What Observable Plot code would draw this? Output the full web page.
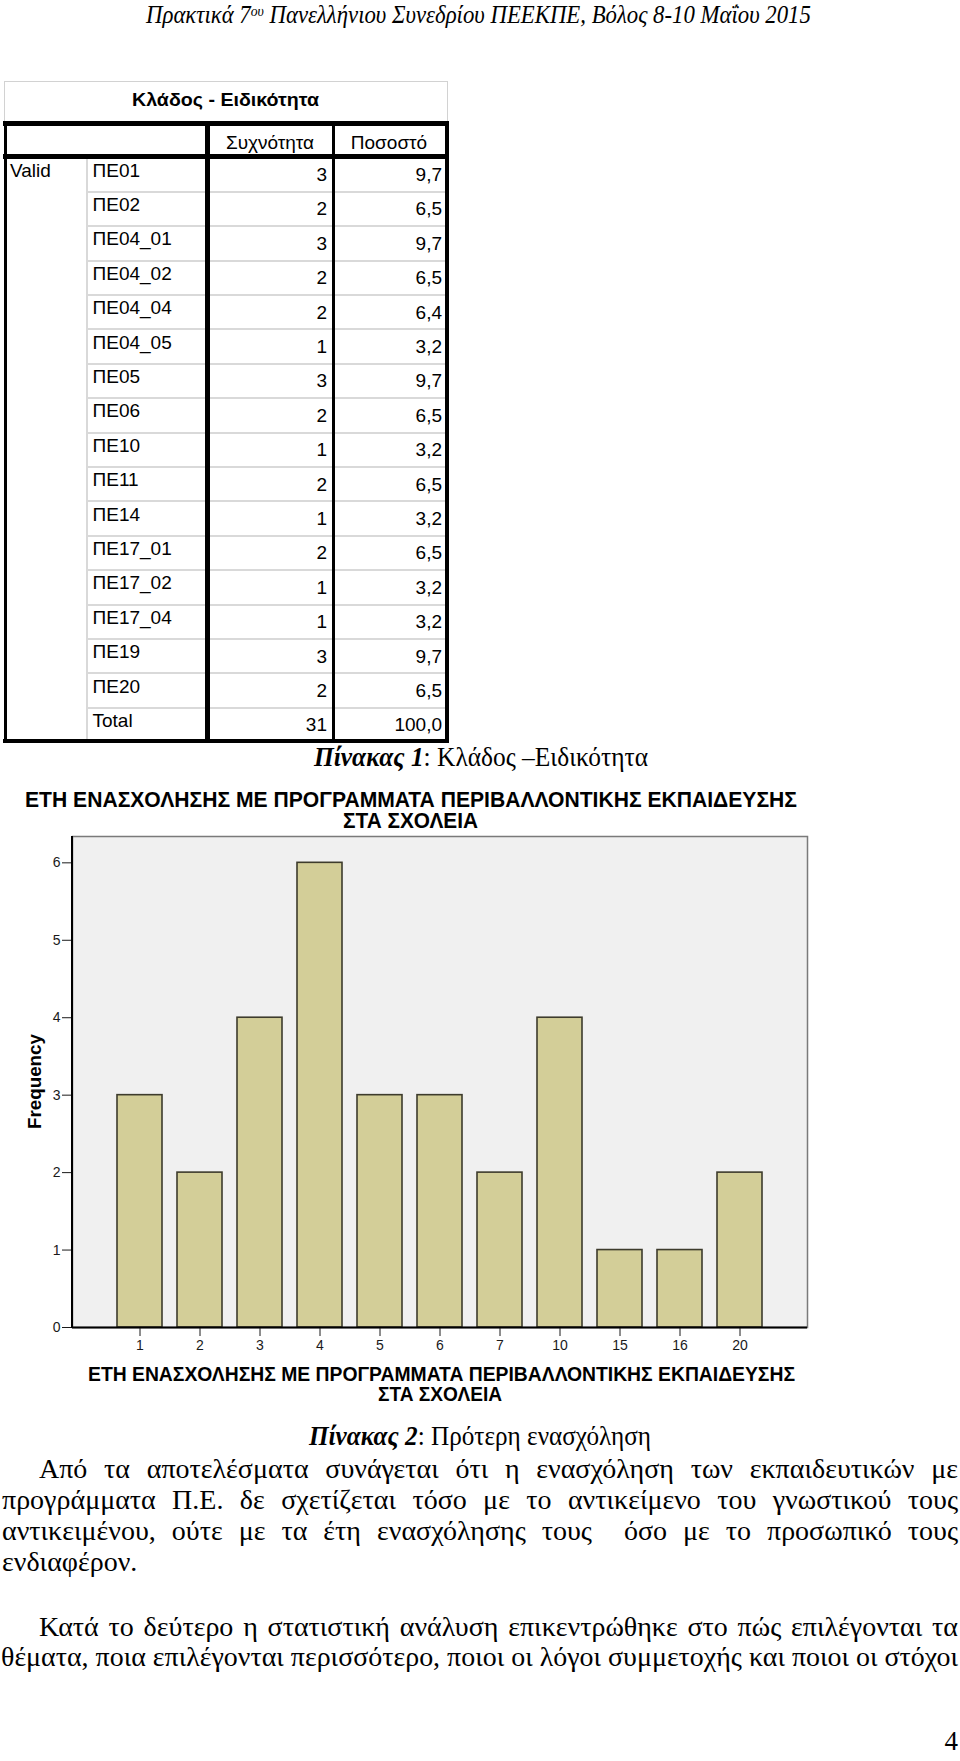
<!DOCTYPE html>
<html>
<head>
<meta charset="utf-8">
<script src="https://cdn.jsdelivr.net/npm/d3@7"></script>
<script src="https://cdn.jsdelivr.net/npm/@observablehq/plot@0.6"></script>
<style>
  html, body { margin: 0; padding: 0; background: #fff; }
  #page { position: relative; width: 960px; height: 1761px; overflow: hidden; background: #fff; }
  .r { position: absolute; }
</style>
</head>
<body>
<div id="page"></div>
<script>
// ---------- data ----------
const headerText = "Πρακτικά 7<sup>ου</sup> Πανελλήνιου Συνεδρίου ΠΕΕΚΠΕ, Βόλος 8-10 Μαΐου 2015";
const tableTitle = "Κλάδος - Ειδικότητα";
const colHeaders = ["Συχνότητα", "Ποσοστό"];
const groupLabel = "Valid";
const codes = ["ΠΕ01","ΠΕ02","ΠΕ04_01","ΠΕ04_02","ΠΕ04_04","ΠΕ04_05","ΠΕ05","ΠΕ06","ΠΕ10","ΠΕ11","ΠΕ14","ΠΕ17_01","ΠΕ17_02","ΠΕ17_04","ΠΕ19","ΠΕ20","Total"];
const freqs = [3,2,3,2,2,1,3,2,1,2,1,2,1,1,3,2,31];
const pcts = ["9,7","6,5","9,7","6,5","6,4","3,2","9,7","6,5","3,2","6,5","3,2","6,5","3,2","3,2","9,7","6,5","100,0"];
const caption1 = "<b><i>Πίνακας 1</i></b>: Κλάδος –Ειδικότητα";
const chartTitle = ["ΕΤΗ ΕΝΑΣΧΟΛΗΣΗΣ ΜΕ ΠΡΟΓΡΑΜΜΑΤΑ ΠΕΡΙΒΑΛΛΟΝΤΙΚΗΣ ΕΚΠΑΙΔΕΥΣΗΣ", "ΣΤΑ ΣΧΟΛΕΙΑ"];
const yTitle = "Frequency";
const years = ["1","2","3","4","5","6","7","10","15","16","20"];
const counts = [3,2,4,6,3,3,2,4,1,1,2];
const caption2 = "<b><i>Πίνακας 2</i></b>: Πρότερη ενασχόληση";
const para1 = [
  "Από τα αποτελέσματα συνάγεται ότι η ενασχόληση των εκπαιδευτικών με",
  "προγράμματα Π.Ε. δε σχετίζεται τόσο με το αντικείμενο του γνωστικού τους",
  "αντικειμένου, ούτε με τα έτη ενασχόλησης τους  όσο με το προσωπικό τους",
  "ενδιαφέρον."
];
const para2 = [
  "Κατά το δεύτερο η στατιστική ανάλυση επικεντρώθηκε στο πώς επιλέγονται τα",
  "θέματα, ποια επιλέγονται περισσότερο, ποιοι οι λόγοι συμμετοχής και ποιοι οι στόχοι"
];
const pageNumber = "4";

// ---------- helpers ----------
const page = document.getElementById("page");
const SERIF = "'Liberation Serif','Times New Roman',serif";
const SANS = "'Liberation Sans',Arial,sans-serif";
const NARROW = "'Liberation Sans Narrow','Liberation Sans',Arial,sans-serif";

function put(html, o) {
  const s = document.createElement("span");
  s.innerHTML = html;
  const fs = o.fs;
  const asc = o.ff === SERIF ? 0.8375 : 0.8465;
  s.style.cssText = `position:absolute;white-space:pre;line-height:1;font-size:${fs}px;font-family:${o.ff};` +
    `font-weight:${o.fw || 400};font-style:${o.fst || "normal"};color:${o.color || "#000"};left:0;` +
    `top:${o.base - asc * fs}px;transform-origin:0 50%;`;
  page.appendChild(s);
  const w = s.getBoundingClientRect().width;
  const sx = o.sx || 1;
  let fw = w * sx;
  if (o.w) {
    const n = (s.textContent.match(/ /g) || []).length;
    if (o.justify && w * sx < o.w && n) {
      s.style.wordSpacing = ((o.w - w * sx) / (n * sx)) + "px";
      if (sx !== 1) s.style.transform = `scaleX(${sx})`;
    } else s.style.transform = `scaleX(${o.w / w})`;
    fw = o.w;
  } else if (sx !== 1) {
    s.style.transform = `scaleX(${sx})`;
  }
  const a = o.anchor || "start";
  s.style.left = (a === "start" ? o.x : a === "middle" ? o.x - fw / 2 : o.x - fw) + "px";
  return s;
}
function rect(x, y, w, h, c) {
  const d = document.createElement("div");
  d.className = "r";
  d.style.cssText += `left:${x}px;top:${y}px;width:${w}px;height:${h}px;background:${c};`;
  page.appendChild(d);
}

// ---------- page header ----------
put(headerText, {x: 481, base: 23, fs: 25, ff: SERIF, fst: "italic", anchor: "middle", w: 670});
page.querySelectorAll("sup").forEach(e => { e.style.fontSize = "0.6em"; e.style.verticalAlign = "0"; e.style.position = "relative"; e.style.top = "-0.45em"; e.style.lineHeight = "0"; });

// ---------- table ----------
const rowTop = 157.3, rowH = 34.4;
const tb = document.createElement("div");
tb.className = "r";
tb.style.cssText += "left:4px;top:81px;width:442px;height:41px;border:1.5px solid #d2d2d2;border-bottom:none;";
page.appendChild(tb);
for (let i = 1; i < codes.length; i++) rect(87, rowTop + rowH * i - 1, 358, 2, "#d9d9d9");
rect(86, 158, 2, rowTop + rowH * codes.length - 158, "#d9d9d9");
rect(3, 121, 446, 4.5, "#000");
rect(3, 154, 446, 4.5, "#000");
rect(3, 738.5, 446, 4.5, "#000");
rect(3.5, 121, 3.5, 622, "#000");
rect(205, 121, 5, 622, "#000");
rect(332, 121, 2.5, 622, "#000");
rect(445, 121, 4, 622, "#000");

put(tableTitle, {x: 225, base: 106, fs: 18, ff: SANS, fw: 700, anchor: "middle", w: 187});
put(colHeaders[0], {x: 270, base: 149, fs: 19, ff: SANS, anchor: "middle"});
put(colHeaders[1], {x: 389, base: 149, fs: 19, ff: SANS, anchor: "middle"});
put(groupLabel, {x: 10, base: rowTop + 19.4, fs: 19, ff: SANS});
codes.forEach((c, i) => {
  const t = rowTop + rowH * i;
  put(c, {x: 92.5, base: t + 19.4, fs: 19, ff: SANS});
  put(String(freqs[i]), {x: 327, base: t + 23.7, fs: 19, ff: SANS, anchor: "end"});
  put(pcts[i], {x: 442, base: t + 23.7, fs: 19, ff: SANS, anchor: "end"});
});

put(caption1, {x: 481, base: 767, fs: 27, ff: SERIF, anchor: "middle", w: 334});

// ---------- chart titles ----------
put(chartTitle[0], {x: 411, base: 808.5, fs: 21.5, ff: NARROW, fw: 700, anchor: "middle", w: 772});
put(chartTitle[1], {x: 410, base: 829.5, fs: 21.5, ff: NARROW, fw: 700, anchor: "middle", w: 135});
put(chartTitle[0], {x: 441, base: 1380.5, fs: 20, ff: NARROW, fw: 700, anchor: "middle", w: 707});
put(chartTitle[1], {x: 440, base: 1401, fs: 20, ff: NARROW, fw: 700, anchor: "middle", w: 124});

// y title, rotated
{
  const s = document.createElement("span");
  s.textContent = yTitle;
  s.style.cssText = `position:absolute;white-space:pre;line-height:1;font-size:19px;font-family:${SANS};font-weight:700;color:#000;left:0;top:0;`;
  page.appendChild(s);
  const w = s.getBoundingClientRect().width;
  const cx = 34, cy = 1081;
  s.style.left = (cx - w / 2) + "px";
  s.style.top = (cy - 9.5) + "px";
  s.style.transformOrigin = "50% 50%";
  s.style.transform = `rotate(-90deg) scaleX(${95 / w})`;
}

// ---------- chart ----------
const data = years.map((y, i) => ({year: y, count: counts[i]}));
const W = 830, H = 535, ML = 72, MR = 23, MT = 10, MB = 34;
const chart = Plot.plot({
  width: W, height: H,
  marginLeft: ML, marginRight: MR, marginTop: MT, marginBottom: MB,
  style: {fontFamily: NARROW, fontSize: "14px", color: "#1a1a1a", background: "transparent", overflow: "visible"},
  x: {domain: years, paddingInner: 0.244, paddingOuter: 0.731, tickSize: 9, tickPadding: 4, label: null},
  y: {domain: [0, 6.34], ticks: 6, tickSize: 10, tickPadding: 2, label: null},
  marks: [
    Plot.frame({fill: "#f0f0f0", stroke: "#7a7a7a", strokeWidth: 1.5}),
    Plot.barY(data, {x: "year", y: "count", fill: "#d3ce98", stroke: "#3d3b2c", strokeWidth: 1.6}),
    Plot.ruleY([0], {stroke: "#000", strokeWidth: 2})
  ]
});
d3.select(chart).append("line")
  .attr("x1", ML).attr("x2", ML).attr("y1", MT).attr("y2", H - MB + 1)
  .attr("stroke", "#000").attr("stroke-width", 2);
const holder = document.createElement("div");
holder.style.cssText = "position:absolute;left:0;top:826px;";
holder.appendChild(chart);
page.appendChild(holder);

// ---------- captions and body text ----------
put(caption2, {x: 480, base: 1446, fs: 27, ff: SERIF, anchor: "middle", w: 342});
const lineBase = 1478, lineStep = 31.3;
para1.forEach((t, i) => {
  const isLast = i === para1.length - 1;
  put(t, {x: i === 0 ? 39 : 2, base: lineBase + lineStep * i, fs: 28, ff: SERIF,
          w: isLast ? undefined : (i === 0 ? 919 : 956), justify: true});
});
para2.forEach((t, i) => {
  put(t, {x: i === 0 ? 39 : 1, base: 1636 + 30 * i, fs: 28, ff: SERIF,
          w: i === 0 ? 919 : 957, justify: true});
});
put(pageNumber, {x: 958, base: 1751, fs: 27, ff: SERIF, anchor: "end"});
</script>
</body>
</html>
